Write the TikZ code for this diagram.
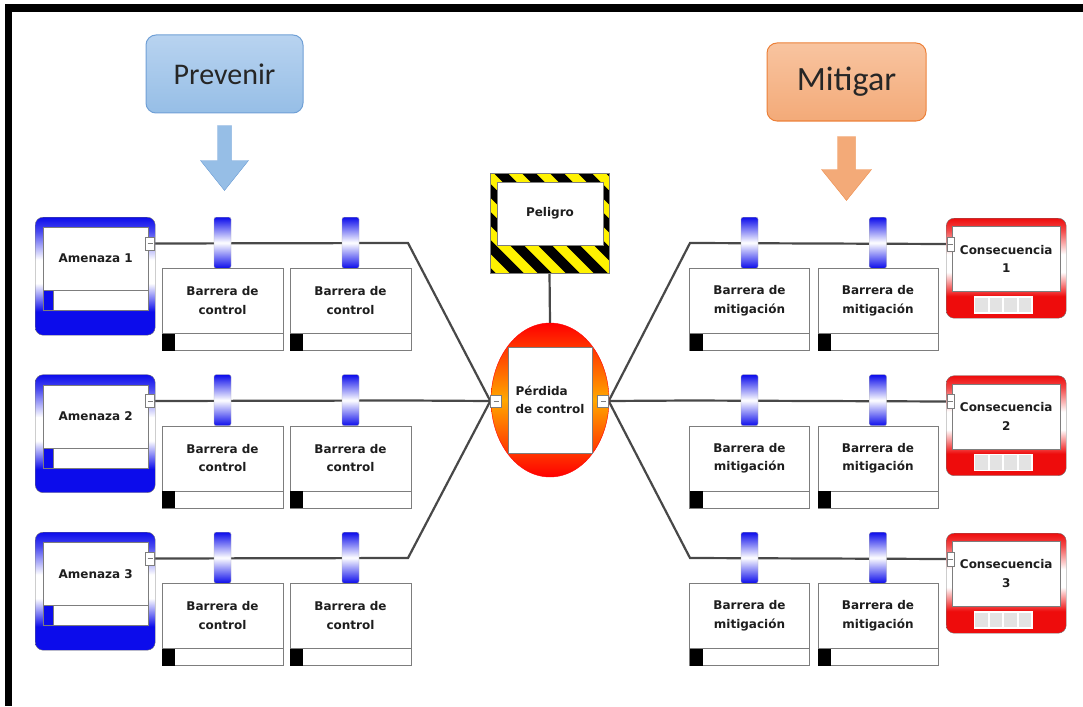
\documentclass[tikz,border=0pt]{standalone}
\usepackage{fontspec}
\setmainfont{DejaVu Sans}
\newfontfamily\calfont{Carlito}
\usetikzlibrary{positioning,backgrounds,shapes.geometric}

\definecolor{amblue}{RGB}{12,12,235}
\definecolor{cored}{RGB}{238,12,12}
\colorlet{amfade}{amblue!75!white}
\colorlet{cofade}{cored!75!white}
\definecolor{prevtop}{RGB}{184,211,240}
\definecolor{prevbot}{RGB}{150,190,230}
\definecolor{prevdraw}{RGB}{112,160,214}
\definecolor{mittop}{RGB}{248,196,160}
\definecolor{mitbot}{RGB}{243,170,120}
\definecolor{mitdraw}{RGB}{236,128,56}
\definecolor{linegray}{RGB}{72,72,72}
\definecolor{boxgray}{RGB}{125,125,125}
\definecolor{textgray}{RGB}{30,30,30}
\definecolor{hazyellow}{RGB}{255,242,0}
\definecolor{perdmid}{RGB}{255,168,0}

\pgfdeclareverticalshading{amshade}{100bp}{color(0bp)=(amblue); color(35bp)=(amblue); color(47bp)=(white); color(57bp)=(white); color(69bp)=(amfade); color(75bp)=(amblue); color(100bp)=(amblue)}
\pgfdeclareverticalshading{coshade}{100bp}{color(0bp)=(cored); color(36bp)=(cored); color(48bp)=(white); color(57bp)=(white); color(69bp)=(cofade); color(75bp)=(cored); color(100bp)=(cored)}

\tikzset{
  link/.style={draw=linegray, line width=2.2pt},
  port/.style={draw=boxgray, fill=white, inner sep=0pt, minimum width=11, minimum height=12,
    path picture={\draw[boxgray, line width=0.6pt] ([xshift=-2.5pt]path picture bounding box.center) -- ++(5,0);}},
  threat/.style={draw=black!55, rounded corners=8pt, shading=amshade, minimum width=120, minimum height=118, inner sep=0pt},
  conseq/.style={draw=black!55, rounded corners=8pt, shading=coshade, minimum width=120, minimum height=100, inner sep=0pt},
  card/.style={draw=boxgray, fill=white, inner sep=0pt, align=center, text=textgray, font=\bfseries\fontsize{12}{18.5}\selectfont},
  cardfoot/.style={draw=boxgray, fill=white, inner sep=0pt, minimum height=17},
  chip/.style={inner sep=0pt, minimum width=12, minimum height=17},
  clamp/.style={draw=gray!60, rounded corners=2pt, top color=amblue, bottom color=amblue, middle color=white,
    minimum width=17, minimum height=51, inner sep=0pt, anchor=north},
  banner/.style={rounded corners=10pt, line width=1pt, minimum width=157, minimum height=78, inner sep=0pt,
    text=black!85, font=\calfont\fontsize{30}{36}\selectfont}
}

\begin{document}
\begin{tikzpicture}[x=1pt,y=-1pt]
\useasboundingbox (0,0) rectangle (1083,706);
\fill[black] (5,4) rectangle (1083,12);
\fill[black] (5,4) rectangle (12,706);

% headings
\node[banner, top color=prevtop, bottom color=prevbot, draw=prevdraw] (prev) at (224.5,74) {Prevenir};
\node[banner, top color=mittop, bottom color=mitbot, draw=mitdraw, minimum width=159,
  font=\calfont\fontsize{34}{40}\selectfont] (mit) at (846.5,82) {Mitigar};
\filldraw[fill=prevbot, draw=prevdraw] ([shift={(-7,12)}]prev.south) -- ++(0,35) -- ++(-17,0) -- ++(24,30)
  -- ++(24,-30) -- ++(-17,0) -- ++(0,-35) -- cycle;
\filldraw[fill=mitbot, draw=mitdraw!70!mitbot] ([shift={(-9,15)}]mit.south) -- ++(0,33) -- ++(-16,0) -- ++(25,31)
  -- ++(25,-31) -- ++(-16,0) -- ++(0,-33) -- cycle;

% hazard and top event
\node[draw=boxgray, fill=hazyellow, minimum width=119, minimum height=100, inner sep=0pt,
  path picture={\foreach \st in {-7,...,4}
    \fill[black] ([xshift=\st*28pt]path picture bounding box.north) -- ++(14,0) -- ++(110,110) -- ++(-14,0) -- cycle;}]
  (pel) at (549.5,223) {};
\node[card, minimum width=106, minimum height=63] (pelt) at (550,213.5) {Peligro};
\node[ellipse, draw=red, top color=red, bottom color=red, middle color=perdmid,
  minimum width=118, minimum height=154, inner sep=0pt] (perd) at (550,400) {};
\node[card, align=left, minimum width=84, minimum height=106] (perdt) at (550,400) {Pérdida\\de control};
\node[port] (pl) at (496,401) {};
\node[port] (pr) at (603,401) {};
\begin{scope}[on background layer]
  \draw[link] (pel.south) -- (perd.north);
\end{scope}

\foreach \r/\ya/\yl in {1/217/243, 2/374.5/400.5, 3/532/558}{
  % threats
  \node[threat, anchor=north west] (am\r) at (35,\ya) {};
  \node[card, minimum width=105, minimum height=63, anchor=north west] (amt\r) at (43,\ya+10) {Amenaza \r};
  \node[cardfoot, minimum width=105, minimum height=20, anchor=north west] (amf\r) at (43,\ya+73) {};
  \node[chip, draw=boxgray, fill=amblue, minimum width=10, minimum height=20, anchor=north west] (amq\r) at (43,\ya+73) {};
  \node[port, minimum width=9, minimum height=13] (amp\r) at (150,\ya+26.5) {};
  \foreach \bx [count=\k] in {222.5,350.5}{
    \node[clamp] (cl\r\k) at (\bx,\ya) {};
    \node[card, minimum width=121, minimum height=65, anchor=north] (ba\r\k) at (\bx,\ya+51) {Barrera de\\control};
    \node[cardfoot, minimum width=121, below=0pt of ba\r\k] (baf\r\k) {};
    \node[chip, fill=black, minimum width=13, anchor=west] (baq\r\k) at (baf\r\k.west) {};
  }
  % consequences
  \foreach \bx [count=\k] in {749.5,878}{
    \node[clamp] (cr\r\k) at (\bx,\ya) {};
    \node[card, minimum width=120, minimum height=65, anchor=north] (bm\r\k) at (\bx,\ya+51) {Barrera de\\mitigación};
    \node[cardfoot, minimum width=120, below=0pt of bm\r\k] (bmf\r\k) {};
    \node[chip, fill=black, minimum width=13, anchor=west] (bmq\r\k) at (bmf\r\k.west) {};
  }
  \node[conseq, anchor=north west] (co\r) at (946,\ya+1) {};
  \node[card, minimum width=108, minimum height=65, anchor=north west] (cot\r) at (952,\ya+9) {Consecuencia\\\r};
  \foreach \q in {0,...,3}
    \node[chip, fill=gray!22, draw=white, line width=1.2pt, minimum width=14, minimum height=16] (cs\r\q) at (981.5+\q*14.5,\ya+88) {};
  \node[port, minimum width=7, minimum height=14] (cp\r) at (950.5,\ya+27) {};
  % paths
  \coordinate (lb\r) at (408,\yl);
  \coordinate (rb\r) at (690,\yl);
  \begin{scope}[on background layer]
    \draw[link] (amp\r.east) -- (lb\r) -- (pl.west);
    \draw[link] (pr.east) -- (rb\r) -- (cp\r.west);
  \end{scope}
}
\end{tikzpicture}
\end{document}
